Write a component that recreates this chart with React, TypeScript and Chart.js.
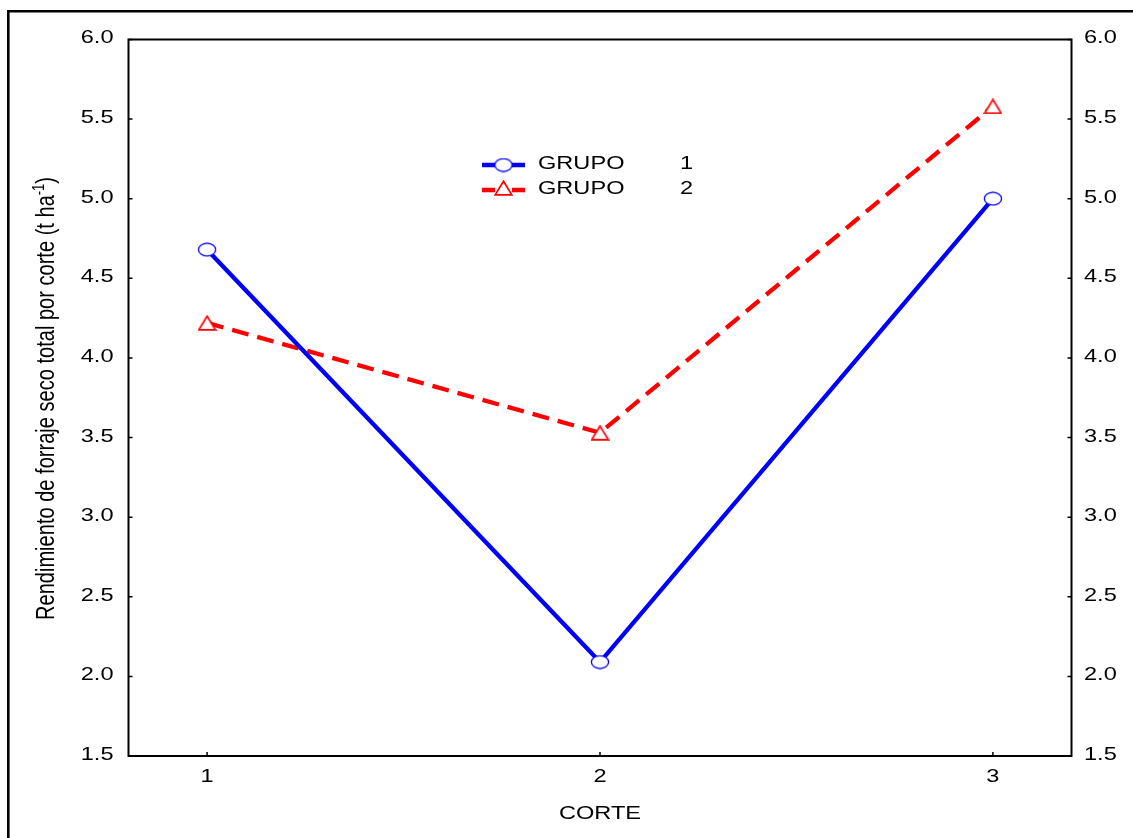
import React, { useEffect, useRef } from 'react';
import { Chart, registerables } from 'chart.js';

Chart.register(...registerables);

// ---- data ----
const corte = [1, 2, 3];
const grupo1 = [4.68, 2.09, 5.0];
const grupo2 = [4.22, 3.53, 5.58];
const legendNames = ['GRUPO', 'GRUPO'];
const legendNums = ['1', '2'];
const yTickValues = [1.5, 2.0, 2.5, 3.0, 3.5, 4.0, 4.5, 5.0, 5.5, 6.0];
const xTickValues = [1, 2, 3];
const xTitle = 'CORTE';
const yTitleMain = 'Rendimiento de forraje seco total por corte (t ha';
const yTitleSup = '-1';
const yTitleEnd = ')';

const BLUE = '#0000ff';
const RED = '#ff0000';
const FONT = '"Liberation Sans", Arial, sans-serif';
const FS = 18;
const SX = 1.31;

function makeEllipse(): HTMLCanvasElement {
  const c = document.createElement('canvas');
  c.width = 20;
  c.height = 15;
  const g = c.getContext('2d')!;
  g.beginPath();
  g.ellipse(10, 7.5, 8.6, 6.3, 0, 0, Math.PI * 2);
  g.fillStyle = '#ffffff';
  g.fill();
  g.strokeStyle = BLUE;
  g.lineWidth = 1.3;
  g.stroke();
  return c;
}

function makeTriangle(): HTMLCanvasElement {
  const c = document.createElement('canvas');
  c.width = 19;
  c.height = 16;
  const g = c.getContext('2d')!;
  g.beginPath();
  g.moveTo(9.5, 1.2);
  g.lineTo(17.8, 14.8);
  g.lineTo(1.2, 14.8);
  g.closePath();
  g.fillStyle = '#ffffff';
  g.fill();
  g.strokeStyle = RED;
  g.lineWidth = 1.7;
  g.stroke();
  return c;
}

function txt(ctx: CanvasRenderingContext2D, s: string, x: number, y: number, align: CanvasTextAlign) {
  ctx.save();
  ctx.translate(x, y);
  ctx.scale(SX, 1);
  ctx.textAlign = align;
  ctx.textBaseline = 'middle';
  ctx.fillText(s, 0, 0);
  ctx.restore();
}

export default function App() {
  const ref = useRef<HTMLCanvasElement>(null);

  useEffect(() => {
    const canvas = ref.current!;
    const ellipse = makeEllipse();
    const tri = makeTriangle();

    const decor = {
      id: 'decor',
      beforeDatasetsDraw(chart: any) {
        const ctx: CanvasRenderingContext2D = chart.ctx;
        const a = chart.chartArea;
        const y = chart.scales.y;
        const x = chart.scales.x;
        ctx.save();
        // outer frame
        ctx.strokeStyle = '#000';
        ctx.lineWidth = 2.6;
        ctx.beginPath();
        ctx.moveTo(8.3, 850);
        ctx.lineTo(8.3, 11.3);
        ctx.lineTo(1145, 11.3);
        ctx.stroke();
        // plot box
        ctx.lineWidth = 2;
        ctx.strokeRect(a.left, a.top, a.right - a.left, a.bottom - a.top);
        // ticks
        ctx.lineWidth = 1.5;
        ctx.beginPath();
        y.ticks.forEach((t: any) => {
          const py = y.getPixelForValue(t.value);
          ctx.moveTo(a.left, py);
          ctx.lineTo(a.left + 4, py);
          ctx.moveTo(a.right, py);
          ctx.lineTo(a.right - 4, py);
        });
        x.ticks.forEach((t: any) => {
          const px = x.getPixelForValue(t.value);
          ctx.moveTo(px, a.bottom);
          ctx.lineTo(px, a.bottom - 4);
        });
        ctx.stroke();
        // labels
        ctx.fillStyle = '#000';
        ctx.font = `${FS}px ${FONT}`;
        y.ticks.forEach((t: any) => {
          const py = y.getPixelForValue(t.value) - 1;
          const s = Number(t.value).toFixed(1);
          txt(ctx, s, a.left - 15, py, 'right');
          txt(ctx, s, a.right + 12.5, py, 'left');
        });
        x.ticks.forEach((t: any) => {
          const px = x.getPixelForValue(t.value);
          txt(ctx, String(t.value), px, a.bottom + 21, 'center');
        });
        txt(ctx, xTitle, (a.left + a.right) / 2, a.bottom + 58, 'center');

        // y title (rotated)
        const f = 17;
        const fsup = Math.round(f * 0.62);
        ctx.font = `${f}px ${FONT}`;
        const wMain = ctx.measureText(yTitleMain).width;
        ctx.font = `${fsup}px ${FONT}`;
        const wSup = ctx.measureText(yTitleSup).width;
        ctx.font = `${f}px ${FONT}`;
        const wEnd = ctx.measureText(yTitleEnd).width;
        const total = wMain + wSup + wEnd;
        const targetLen = 443;
        const adv = targetLen / total;
        ctx.save();
        ctx.translate(47, 398.5);
        ctx.rotate(-Math.PI / 2);
        ctx.scale(adv, 1.5);
        ctx.textBaseline = 'middle';
        ctx.textAlign = 'left';
        let cx = -total / 2;
        ctx.fillText(yTitleMain, cx, 0);
        cx += wMain;
        ctx.font = `${fsup}px ${FONT}`;
        ctx.fillText(yTitleSup, cx, -5);
        cx += wSup;
        ctx.font = `${f}px ${FONT}`;
        ctx.fillText(yTitleEnd, cx, 0);
        ctx.restore();
        ctx.restore();
      },
      afterDatasetsDraw(chart: any) {
        const ctx: CanvasRenderingContext2D = chart.ctx;
        ctx.save();
        const rows = [165, 190];
        // blue row
        ctx.lineWidth = 4.5;
        ctx.strokeStyle = BLUE;
        ctx.beginPath();
        ctx.moveTo(482, rows[0]);
        ctx.lineTo(525, rows[0]);
        ctx.stroke();
        ctx.drawImage(ellipse, 503.5 - ellipse.width / 2, rows[0] - ellipse.height / 2);
        // red row
        ctx.strokeStyle = RED;
        ctx.beginPath();
        ctx.moveTo(482, rows[1]);
        ctx.lineTo(495, rows[1]);
        ctx.moveTo(512, rows[1]);
        ctx.lineTo(525, rows[1]);
        ctx.stroke();
        ctx.drawImage(tri, 503.5 - tri.width / 2, rows[1] - 2 - tri.height / 2);
        ctx.fillStyle = '#000';
        ctx.font = `${FS}px ${FONT}`;
        rows.forEach((ry, i) => {
          txt(ctx, legendNames[i], 538, ry - 1, 'left');
          txt(ctx, legendNums[i], 680, ry - 1, 'left');
        });
        ctx.restore();
      },
    };

    const chart = new Chart(canvas, {
      type: 'line',
      data: {
        datasets: [
          {
            label: 'GRUPO 1',
            data: corte.map((c, i) => ({ x: c, y: grupo1[i] })),
            borderColor: BLUE,
            borderWidth: 4.3,
            pointStyle: ellipse as any,
            pointRadius: 8,
            tension: 0,
            yAxisID: 'y',
          },
          {
            label: 'GRUPO 2',
            data: corte.map((c, i) => ({ x: c, y: grupo2[i] })),
            borderColor: RED,
            borderWidth: 4.3,
            borderDash: [17, 9],
            pointStyle: tri as any,
            pointRadius: 8,
            tension: 0,
            yAxisID: 'y',
          },
        ],
      },
      plugins: [decor],
      options: {
        responsive: false,
        animation: false,
        devicePixelRatio: 1,
        layout: { padding: { top: 39.5, left: 0, right: 0, bottom: 0 } },
        plugins: { legend: { display: false }, tooltip: { enabled: false }, title: { display: false } },
        scales: {
          x: {
            type: 'linear',
            min: 0.8,
            max: 3.2,
            ticks: { display: false },
            grid: { display: false },
            border: { display: false },
            afterBuildTicks: (s: any) => {
              s.ticks = xTickValues.map((v) => ({ value: v }));
            },
            afterFit: (s: any) => {
              s.height = 82;
            },
          },
          y: {
            type: 'linear',
            position: 'left',
            min: 1.5,
            max: 6.0,
            ticks: { display: false },
            grid: { display: false },
            border: { display: false },
            afterBuildTicks: (s: any) => {
              s.ticks = yTickValues.map((v) => ({ value: v }));
            },
            afterFit: (s: any) => {
              s.width = 128.5;
            },
          },
          y2: {
            type: 'linear',
            position: 'right',
            min: 1.5,
            max: 6.0,
            ticks: { display: false },
            grid: { display: false },
            border: { display: false },
            afterFit: (s: any) => {
              s.width = 61.5;
            },
          },
        },
      },
    });
    return () => chart.destroy();
  }, []);

  return (
    <div style={{ position: 'absolute', left: 0, top: 0, width: 1133, height: 838 }}>
      <canvas ref={ref} width={1133} height={838} style={{ display: 'block' }} />
    </div>
  );
}
